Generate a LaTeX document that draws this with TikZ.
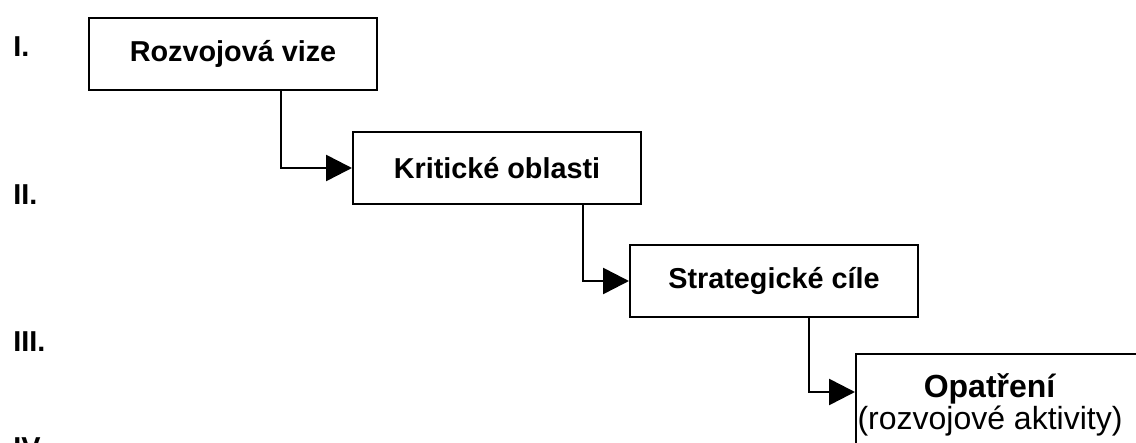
\documentclass[tikz,border=0pt]{standalone}
\usepackage{fontspec}
\setmainfont{Liberation Sans}
\usetikzlibrary{arrows.meta}
\tikzstyle{stage} = [rectangle, draw=black, line width=1pt, minimum width=144pt, minimum height=36pt, text centered, font=\fontsize{14.4}{17}\selectfont\bfseries]
\tikzstyle{level} = [anchor=base west, inner sep=0pt, font=\fontsize{14.4}{17}\selectfont\bfseries]
\tikzstyle{arrow} = [line width=1.3pt,-{Triangle[length=13pt,width=13pt]}]

\begin{document}
\begin{tikzpicture}[x=0.5pt, y=-0.5pt]
    \useasboundingbox (0,0) rectangle (1136,443);
    \clip (0,0) rectangle (1136,443);
        \node (one) [level] at (13,57) {I.};
        \node (two) [level] at (13,205) {II.};
        \node (three) [level] at (13,352) {III.};
        \node (four) [level] at (13,458) {IV.};

        \node (vision) [stage, anchor=north west] at (88,17) {Rozvojová vize};
        \node (areas) [stage, anchor=north west] at (352,131) {Kritické oblasti};
        \node (goals) [stage, anchor=north west] at (629,244) {Strategické cíle};
        \node (measures) [stage, anchor=north west, minimum height=51pt, align=center, font=\fontsize{16}{14}\selectfont] at (855,353) {\hspace*{-10pt}\textbf{Opatření}\\\hspace*{-10pt}(rozvojové aktivity)};

        \draw [arrow] ([xshift=24pt]vision.south) |- (areas.west);
        \draw [arrow] ([xshift=43pt]areas.south) |- (goals.west);
        \draw [arrow] ([xshift=17.5pt]goals.south) |- ([yshift=6.5pt]measures.west);
\end{tikzpicture}
\end{document}
